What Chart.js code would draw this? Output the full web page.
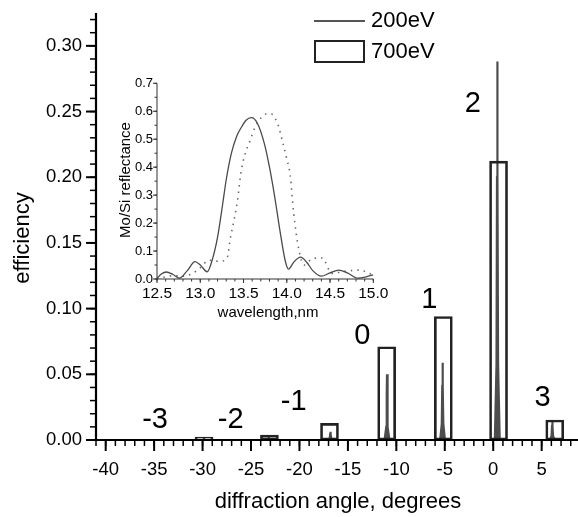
<!DOCTYPE html>
<html><head><meta charset="utf-8">
<script src="https://cdn.jsdelivr.net/npm/chart.js@4/dist/chart.umd.min.js"></script>
<style>
html,body{margin:0;padding:0;background:#fff;}
#wrap{position:relative;width:578px;height:517px;overflow:hidden;}
#main{position:absolute;left:0;top:0;}
#inset{position:absolute;left:100px;top:70px;}
</style></head><body>
<div id="wrap"><canvas id="main" width="578" height="517"></canvas><canvas id="inset" width="295" height="260"></canvas></div>
<script>
// ---------- main chart data ----------
// 700eV: diffraction order bars (angle in degrees, efficiency)
const barAngle700 = [-29.85, -23.1, -16.9, -11.0, -5.15, 0.55, 6.35];
const barEff700   = [0.0022, 0.0038, 0.0127, 0.071, 0.094, 0.2123, 0.0152];
// 200eV: measured trace (angle, efficiency)
const angle200 = [-41, -30.1, -29.93, -29.88, -29.85, -29.82, -29.77, -29.6,
  -23.4, -23.23, -23.18, -23.15, -23.12, -23.07, -22.9,
  -17.05, -16.88, -16.83, -16.8, -16.77, -16.72, -16.55,
  -11.21, -11.04, -10.99, -10.96, -10.93, -10.88, -10.71,
  -5.48, -5.31, -5.26, -5.23, -5.2, -5.15, -4.98,
  0.17, 0.34, 0.39, 0.42, 0.45, 0.5, 0.67,
  5.85, 6.02, 6.07, 6.1, 6.13, 6.18, 6.35, 8.75];
const eff200 = [0, 0, 0.0002, 0.0007, 0.001, 0.0007, 0.0002, 0,
  0, 0.0003, 0.001, 0.0015, 0.001, 0.0003, 0,
  0, 0.0013, 0.0044, 0.0063, 0.0044, 0.0013, 0,
  0, 0.010, 0.035, 0.050, 0.035, 0.010, 0,
  0, 0.012, 0.041, 0.0588, 0.041, 0.012, 0,
  0, 0.058, 0.2, 0.288, 0.2, 0.058, 0,
  0, 0.003, 0.0105, 0.015, 0.0105, 0.003, 0, 0];
const xTickValues = [-40, -35, -30, -25, -20, -15, -10, -5, 0, 5];
const yTickValues = [0, 0.05, 0.10, 0.15, 0.20, 0.25, 0.30];
const orderLabels = ['-3', '-2', '-1', '0', '1', '2', '3'];
const seriesNames = ['200eV', '700eV'];

// ---------- inset data ----------
const wlSolid = [12.5, 12.55, 12.61, 12.68, 12.76, 12.85, 12.94, 13.0, 13.08, 13.14, 13.2, 13.26, 13.3, 13.36, 13.42, 13.47, 13.53, 13.59, 13.66, 13.74, 13.8, 13.86, 13.92, 13.98, 14.02, 14.08, 14.16, 14.23, 14.3, 14.4, 14.5, 14.6, 14.7, 14.82, 14.92, 15.0];
const rSolid  = [0.002, 0.018, 0.025, 0.017, 0.003, 0.03, 0.062, 0.05, 0.026, 0.07, 0.15, 0.27, 0.355, 0.45, 0.51, 0.54, 0.568, 0.577, 0.557, 0.485, 0.40, 0.295, 0.175, 0.068, 0.035, 0.06, 0.078, 0.06, 0.03, 0.01, 0.022, 0.032, 0.022, 0.003, 0.008, 0.015];
const wlDotted = [12.5, 12.6, 12.7, 12.8, 12.9, 13.0, 13.1, 13.22, 13.31, 13.35, 13.39, 13.43, 13.47, 13.52, 13.57, 13.63, 13.7, 13.76, 13.82, 13.9, 13.96, 14.0, 14.04, 14.08, 14.14, 14.2, 14.28, 14.36, 14.41, 14.52, 14.62, 14.71, 14.85, 14.95, 15.0];
const rDotted  = [0.0, 0.008, 0.012, 0.01, 0.018, 0.04, 0.067, 0.063, 0.075, 0.15, 0.21, 0.28, 0.38, 0.45, 0.49, 0.54, 0.575, 0.59, 0.59, 0.55, 0.48, 0.43, 0.37, 0.235, 0.104, 0.05, 0.07, 0.075, 0.075, 0.02, 0.025, 0.029, 0.032, 0.02, 0.015];
const wlTickValues = [12.5, 13.0, 13.5, 14.0, 14.5, 15.0];
const rTickValues = [0, 0.1, 0.2, 0.3, 0.4, 0.5, 0.6, 0.7];

const FONT = "'Liberation Sans', Arial, Helvetica, sans-serif";

function axesPlugin(cfg) {
  return {
    id: 'axes_' + cfg.id,
    afterDatasetsDraw(chart) {
      const ctx = chart.ctx;
      const {left, right, top, bottom} = chart.chartArea;
      const xs = chart.scales.x, ys = chart.scales.y;
      ctx.save();
      ctx.strokeStyle = cfg.color;
      ctx.lineCap = 'butt';
      const seg = (x1, y1, x2, y2) => { ctx.beginPath(); ctx.moveTo(x1, y1); ctx.lineTo(x2, y2); ctx.stroke(); };
      // minor ticks
      ctx.lineWidth = cfg.minorW;
      for (let i = 0; ; i++) {
        const v = cfg.xMinorStart + i * cfg.xMinor;
        if (v > xs.max + 1e-9) break;
        const p = xs.getPixelForValue(v);
        seg(p, bottom, p, bottom + cfg.xMinorLen);
      }
      for (let i = 0; ; i++) {
        const v = cfg.yMinorStart + i * cfg.yMinor;
        if (v > ys.max + 1e-9) break;
        const p = ys.getPixelForValue(v);
        seg(left, p, left - cfg.yMinorLen, p);
      }
      // major ticks
      ctx.lineWidth = cfg.majorW;
      cfg.xMajor.forEach(v => { const p = xs.getPixelForValue(v); seg(p, bottom, p, bottom + cfg.xMajorLen); });
      cfg.yMajor.forEach(v => { const p = ys.getPixelForValue(v); seg(left, p, left - cfg.yMajorLen, p); });
      // axis lines
      ctx.lineWidth = cfg.axisW;
      seg(left - cfg.axisW / 2, bottom, right, bottom);
      seg(left, top, left, bottom + cfg.axisW / 2);
      ctx.restore();
    }
  };
}

const annotPlugin = {
  id: 'annot',
  labelPos: { x: [-34.9, -27.1, -20.6, -13.5, -6.6, -2.1, 5.1], y: [0.0152, 0.0152, 0.0289, 0.079, 0.1065, 0.2557, 0.032] },
  afterDraw(chart) {
    const ctx = chart.ctx;
    const xs = chart.scales.x, ys = chart.scales.y;
    ctx.save();
    ctx.fillStyle = '#000';
    // order labels
    ctx.font = '29px ' + FONT;
    ctx.textAlign = 'center';
    ctx.textBaseline = 'middle';
    orderLabels.forEach((t, i) => {
      ctx.fillText(t, xs.getPixelForValue(this.labelPos.x[i]), ys.getPixelForValue(this.labelPos.y[i]));
    });
    // axis titles
    ctx.font = '22px ' + FONT;
    ctx.fillText('diffraction angle, degrees', 338, 502);
    ctx.save();
    ctx.translate(23, 238);
    ctx.rotate(-Math.PI / 2);
    ctx.fillText('efficiency', 0, 0);
    ctx.restore();
    // legend
    ctx.textAlign = 'left';
    ctx.strokeStyle = '#555';
    ctx.lineWidth = 2;
    ctx.beginPath(); ctx.moveTo(314, 21); ctx.lineTo(365, 21); ctx.stroke();
    ctx.strokeStyle = '#222';
    ctx.strokeRect(315, 41, 49, 21);
    ctx.fillText(seriesNames[0], 371, 21);
    ctx.fillText(seriesNames[1], 371, 52);
    ctx.restore();
  }
};

new Chart(document.getElementById('main'), {
  type: 'bar',
  data: {
    datasets: [
      {
        type: 'line', label: seriesNames[0],
        data: angle200.map((x, i) => ({x: x, y: eff200[i]})),
        borderColor: '#4d4d4d', backgroundColor: '#4d4d4d', borderWidth: 2.2,
        pointRadius: 0, fill: 'origin', tension: 0, order: 2
      },
      {
        type: 'bar', label: seriesNames[1],
        data: barAngle700.map((x, i) => ({x: x, y: barEff700[i]})),
        borderColor: '#222', backgroundColor: 'rgba(0,0,0,0)', borderWidth: 2,
        barThickness: 18, borderSkipped: false, order: 1
      }
    ]
  },
  options: {
    responsive: false, devicePixelRatio: 1, animation: false,
    layout: {padding: {top: 13, left: 0, right: 0, bottom: 0}},
    plugins: {legend: {display: false}, tooltip: {enabled: false}},
    scales: {
      x: {
        type: 'linear', min: -41, max: 8.75, offset: false,
        grid: {display: false, drawTicks: false}, border: {display: false},
        afterBuildTicks: s => { s.ticks = xTickValues.map(v => ({value: v})); },
        afterFit: s => { s.height = 77; s.paddingLeft = 0; s.paddingRight = 0; },
        ticks: {font: {family: FONT, size: 18.5}, color: '#000', padding: 19, maxRotation: 0, autoSkip: false,
          callback: v => String(v)}
      },
      y: {
        type: 'linear', min: 0, max: 0.325,
        grid: {display: false, drawTicks: false}, border: {display: false},
        afterBuildTicks: s => { s.ticks = yTickValues.map(v => ({value: v})); },
        afterFit: s => { s.width = 96; s.paddingTop = 0; s.paddingBottom = 0; },
        ticks: {font: {family: FONT, size: 18.5}, color: '#000', padding: 14, autoSkip: false,
          callback: v => Number(v).toFixed(2)}
      }
    }
  },
  plugins: [axesPlugin({id: 'main', color: '#000', minorW: 1.5, majorW: 2, axisW: 2.2,
    xMinorStart: -41, xMinor: 1, xMinorLen: 6, xMajor: xTickValues, xMajorLen: 11,
    yMinorStart: 0, yMinor: 0.01, yMinorLen: 6, yMajor: yTickValues, yMajorLen: 10}), annotPlugin]
});

const insetTitles = {
  id: 'insetTitles',
  afterDraw(chart) {
    const ctx = chart.ctx;
    ctx.save();
    ctx.fillStyle = '#000';
    ctx.font = '15px ' + FONT;
    ctx.textAlign = 'center';
    ctx.textBaseline = 'middle';
    ctx.fillText('wavelength,nm', 168, 243);
    ctx.translate(26, 110);
    ctx.rotate(-Math.PI / 2);
    ctx.fillText('Mo/Si reflectance', 0, 0);
    ctx.restore();
  }
};

new Chart(document.getElementById('inset'), {
  type: 'line',
  data: {
    datasets: [
      {label: 'solid', data: wlSolid.map((x, i) => ({x: x, y: rSolid[i]})),
        borderColor: '#4a4a4a', borderWidth: 1.3, pointRadius: 0, cubicInterpolationMode: 'monotone', fill: false},
      {label: 'dotted', data: wlDotted.map((x, i) => ({x: x, y: rDotted[i]})),
        borderColor: '#6a6a6a', borderWidth: 1.6, borderDash: [1.5, 5], pointRadius: 0, cubicInterpolationMode: 'monotone', fill: false}
    ]
  },
  options: {
    responsive: false, devicePixelRatio: 1, animation: false,
    layout: {padding: {top: 13.3, right: 21.7, left: 0, bottom: 0}},
    plugins: {legend: {display: false}, tooltip: {enabled: false}},
    scales: {
      x: {
        type: 'linear', min: 12.5, max: 15, offset: false,
        grid: {display: false, drawTicks: false}, border: {display: false},
        afterBuildTicks: s => { s.ticks = wlTickValues.map(v => ({value: v})); },
        afterFit: s => { s.height = 51; s.paddingLeft = 0; s.paddingRight = 0; },
        ticks: {font: {family: FONT, size: 15.5}, color: '#000', padding: 5, maxRotation: 0, autoSkip: false,
          callback: v => Number(v).toFixed(1)}
      },
      y: {
        type: 'linear', min: 0, max: 0.7,
        grid: {display: false, drawTicks: false}, border: {display: false},
        afterBuildTicks: s => { s.ticks = rTickValues.map(v => ({value: v})); },
        afterFit: s => { s.width = 57; s.paddingTop = 0; s.paddingBottom = 0; },
        ticks: {font: {family: FONT, size: 13}, color: '#000', padding: 4, autoSkip: false,
          callback: v => Number(v).toFixed(1)}
      }
    }
  },
  plugins: [axesPlugin({id: 'inset', color: '#333', minorW: 1, majorW: 1, axisW: 1,
    xMinorStart: 12.5, xMinor: 0.1, xMinorLen: 2.5, xMajor: wlTickValues, xMajorLen: 4,
    yMinorStart: 0, yMinor: 0.05, yMinorLen: 2.5, yMajor: rTickValues, yMajorLen: 4}), insetTitles]
});
</script>
</body></html>
